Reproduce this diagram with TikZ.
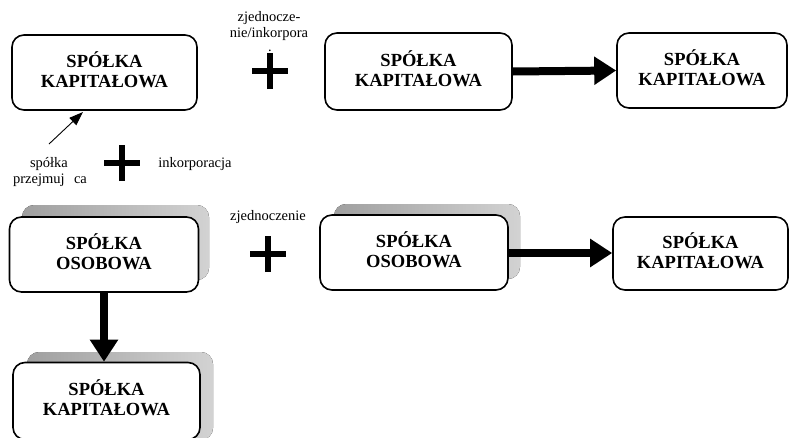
\documentclass[tikz,border=0pt]{standalone}
\usepackage{fontspec}
\setmainfont{Liberation Serif}
\usetikzlibrary{arrows.meta}
\tikzset{
  box/.style={draw=black, line width=1.6pt, rounded corners=12pt, fill=white, align=center,
    inner sep=0pt, text depth=6pt, font=\fontsize{18.5}{20}\selectfont\bfseries},
  shadowbox/.style={rounded corners=12pt, shading=axis, left color=gray!75, right color=gray!35, draw=none},
  bigarrow/.style={line width=8pt, -{Triangle[length=22pt,width=27pt]}},
  thinarrow/.style={line width=0.9pt, -{Triangle[length=14pt,width=10pt]}},
  plusbar/.style={line width=6.5pt},
  small/.style={font=\fontsize{14.5}{17}\selectfont, align=center, inner sep=0pt}
}
\begin{document}
\begin{tikzpicture}[x=1pt,y=-1pt]
\useasboundingbox (0,0) rectangle (790,437);
% shadows
\fill[shadowbox] (22,205) rectangle (209,280);
\fill[shadowbox] (27,352) rectangle (213,440);
\fill[shadowbox] (334,204) rectangle (520,279);
% top row
\node[box, minimum width=185pt, minimum height=75pt] (k1) at (104.5,72.5) {SPÓŁKA\\KAPITAŁOWA};
\node[box, minimum width=187pt, minimum height=77pt] (k2) at (418.5,71.5) {SPÓŁKA\\KAPITAŁOWA};
\node[box, minimum width=170pt, minimum height=75pt] (k3) at (702,70.5) {SPÓŁKA\\KAPITAŁOWA};
% bottom rows
\node[box, minimum width=189pt, minimum height=75pt] (o1) at (104,254.5) {SPÓŁKA\\OSOBOWA};
\node[box, minimum width=187pt, minimum height=77pt] (k5) at (106.5,401) {SPÓŁKA\\KAPITAŁOWA};
\node[box, minimum width=188pt, minimum height=75pt] (o2) at (414,252.5) {SPÓŁKA\\OSOBOWA};
\node[box, minimum width=175pt, minimum height=73pt] (k7) at (700.5,253.5) {SPÓŁKA\\KAPITAŁOWA};
% arrows
\draw[bigarrow] (k2.east) -- (k3.west);
\draw[bigarrow] (o2.east |- 0,253) -- (k7.west |- 0,253);
\draw[bigarrow] (o1.south) -- (o1.south |- k5.north);
\coordinate (tail) at (49,144);
\draw[thinarrow] (tail) -- (83,112) coordinate (tip);
% plus signs
\coordinate (p1) at (270,71);
\coordinate (p2) at (122,163);
\coordinate (p3) at (268,254);
\foreach \p in {p1,p2,p3}{
  \draw[plusbar] ([xshift=-18pt]\p) -- ([xshift=18pt]\p);
  \draw[plusbar] ([yshift=-18pt]\p) -- ([yshift=18pt]\p);
}
% labels
\node[small, anchor=base] (t1) at (269,21) {zjednocze-};
\node[small, anchor=base] (t2) at (269,37) {nie/inkorpora};
\node[small, anchor=base] (t3) at (270,51) {.};
\node[small, anchor=base] (t4) at (49,167) {spółka};
\node[small, anchor=base] (t5) at (50,183) {przejmuj\hspace{0.4em} ca};
\node[small, anchor=base] (t6) at (195,167) {inkorporacja};
\node[small, anchor=base] (t7) at (268,220) {zjednoczenie};
\end{tikzpicture}
\end{document}
